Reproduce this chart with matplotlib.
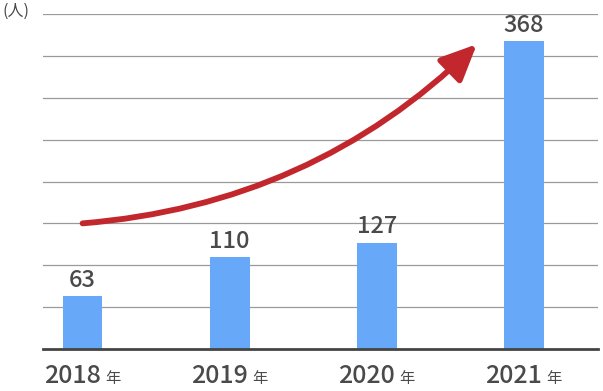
import matplotlib
matplotlib.use("Agg")
import matplotlib.pyplot as plt

plt.rcParams['font.family'] = ['Noto Sans CJK JP', 'DejaVu Sans']

years = ['2018', '2019', '2020', '2021']
counts = [63, 110, 127, 368]
unit_label = '(人)'
year_suffix = '年'

text_color = '#4a4a4a'
bar_color = '#67a9f8'
arrow_color = '#c1272d'

fig = plt.figure(figsize=(6.03, 3.91), dpi=100)
ax = fig.add_axes([43/603, 1-349/391, 555/603, 335/391])

x = list(range(len(years)))
ax.bar(x, counts, width=0.27, color=bar_color, zorder=2)

ax.set_xlim(-0.269, 3.503)
ax.set_ylim(0, 400)
ax.set_yticks(range(50, 401, 50))
ax.yaxis.grid(True, color='#9a9a9a', lw=0.9)
ax.set_axisbelow(True)
ax.tick_params(left=False, bottom=False, labelleft=False, labelbottom=False)
for s in ['top', 'right', 'left']:
    ax.spines[s].set_visible(False)
ax.spines['bottom'].set_color('#444444')
ax.spines['bottom'].set_linewidth(2)
ax.spines['bottom'].set_zorder(3)

# value labels
for xi, v in zip(x, counts):
    ax.annotate(str(v), (xi, v), xytext=(0, 3), textcoords='offset points',
                ha='center', va='bottom', fontsize=17, color=text_color,
                fontweight='medium')

# year labels with smaller 年
for xi, y in zip(x, years):
    ax.annotate(y, (xi, 0), xycoords=('data', 'axes fraction'),
                xytext=(13, -24.5), textcoords='offset points',
                ha='right', va='baseline', fontsize=18, color=text_color,
                fontweight='medium')
    ax.annotate(year_suffix, (xi, 0), xycoords=('data', 'axes fraction'),
                xytext=(16, -24.5), textcoords='offset points',
                ha='left', va='baseline', fontsize=11, color=text_color)

fig.text(2/603, 1-11/391, unit_label, ha='left', va='center',
         fontsize=11.5, color=text_color)

# growth arrow
ax.annotate('', xy=(2.68, 364), xytext=(0, 150),
            arrowprops=dict(arrowstyle='-|>,head_length=1.1,head_width=0.5',
                            mutation_scale=20, lw=4.2, color=arrow_color,
                            connectionstyle='arc3,rad=0.18',
                            shrinkA=0, shrinkB=0),
            annotation_clip=False, zorder=4)

fig.savefig('out.png', dpi=100)
